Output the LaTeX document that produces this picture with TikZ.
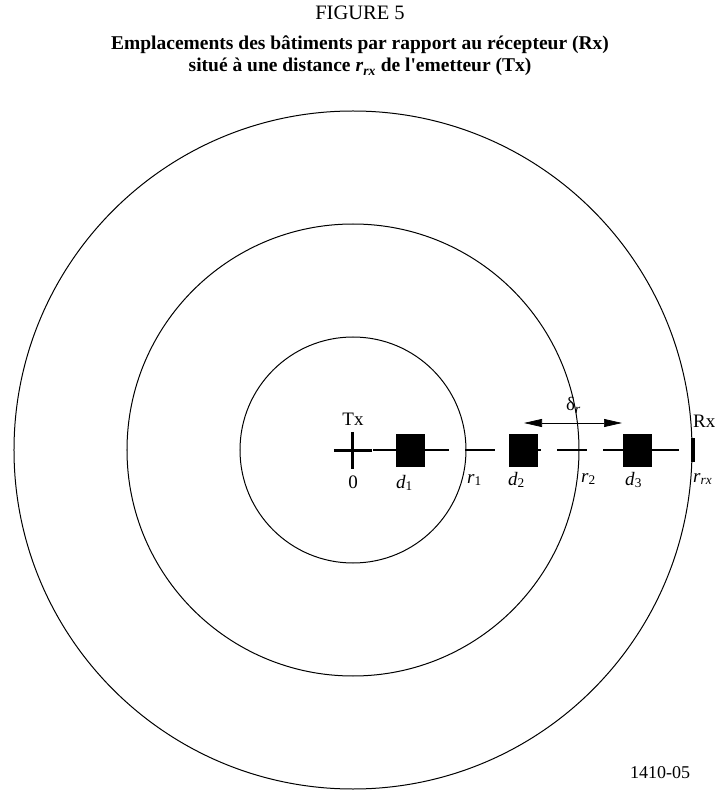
\documentclass[tikz,border=0pt]{standalone}
\usepackage{fontspec}
\setmainfont{Liberation Serif}
\usetikzlibrary{arrows.meta,positioning}
\tikzset{
  ring/.style={line width=1pt},
  axis/.style={line width=1.3pt,dash pattern=on 30pt off 16pt},
  bldg/.style={fill=black,draw=none,minimum width=29pt,minimum height=33pt,inner sep=0pt},
  rxmark/.style={fill=black,draw=none,minimum width=4pt,minimum height=24pt,inner sep=0pt},
  lbl/.style={font=\fontsize{19}{21}\selectfont,inner sep=0pt},
  ttl/.style={font=\fontsize{20.5}{22}\selectfont,inner sep=0pt},
  capline/.style={font=\fontsize{19.5}{21}\selectfont\bfseries,inner sep=0pt},
  dar/.style={{Triangle[length=18pt,width=8pt]}-{Triangle[length=18pt,width=8pt]},line width=0.7pt}
}
\newcommand\sub[2]{\textit{#1}\textsubscript{#2}}

\begin{document}
\begin{tikzpicture}[x=1pt,y=1pt]
\useasboundingbox (-353,-345) rectangle (367,450);
% title
\node[ttl,anchor=base] (fig) at (7,430) {FIGURE 5};
\node[capline,anchor=base] (cap1) at (7,400)
  {Emplacements des bâtiments par rapport au récepteur (Rx)};
\node[capline,anchor=base] (cap2) at (7,378)
  {situé à une distance \sub{r}{\textit{rx}} de l\textquotesingle emetteur (Tx)};
% circles
\coordinate (tx) at (0,0);
\foreach \r in {113,226,339} \draw[ring] (tx) circle[radius=\r pt];
% axis with buildings
\node[rxmark] (rx) at (340,0) {};
\draw[axis] ([xshift=20pt]tx) -- (rx.west);
\node[bldg] (d1) at (57.5,-0.5) {};
\node[bldg] (d2) at (170,-0.5) {};
\node[bldg] (d3) at (284.5,-0.5) {};
\draw[line width=3pt] ([xshift=-19pt]tx) -- ([xshift=19pt]tx)
  ([yshift=18pt]tx) -- ([yshift=-19pt]tx);
% spacing arrow
\coordinate (al) at (171,27);
\coordinate (ar) at (269,27);
\draw[dar] (al) -- (ar);
\node[lbl,anchor=base west] (dr) at (213,39) {δ\textsubscript{\textit{r}}};
% labels
\node[lbl,anchor=base] (ltx) at (0,24) {Tx};
\node[lbl,anchor=base] (l0) at (0,-38) {0};
\node[lbl,anchor=base west] (ld1) at (43,-38) {\sub{d}{1}};
\node[lbl,anchor=base west] (lr1) at (114,-33) {\sub{r}{1}};
\node[lbl,anchor=base west] (ld2) at (155,-35) {\sub{d}{2}};
\node[lbl,anchor=base west] (lr2) at (228,-32) {\sub{r}{2}};
\node[lbl,anchor=base west] (ld3) at (272,-35) {\sub{d}{3}};
\node[lbl,anchor=base west] (lrx) at (340,-32) {\sub{r}{\textit{rx}}};
\node[lbl,anchor=base west] (lRx) at (340,22) {Rx};
\node[lbl,anchor=base west,font=\fontsize{18}{20}\selectfont] (num) at (277,-328) {1410-05};
\end{tikzpicture}
\end{document}
